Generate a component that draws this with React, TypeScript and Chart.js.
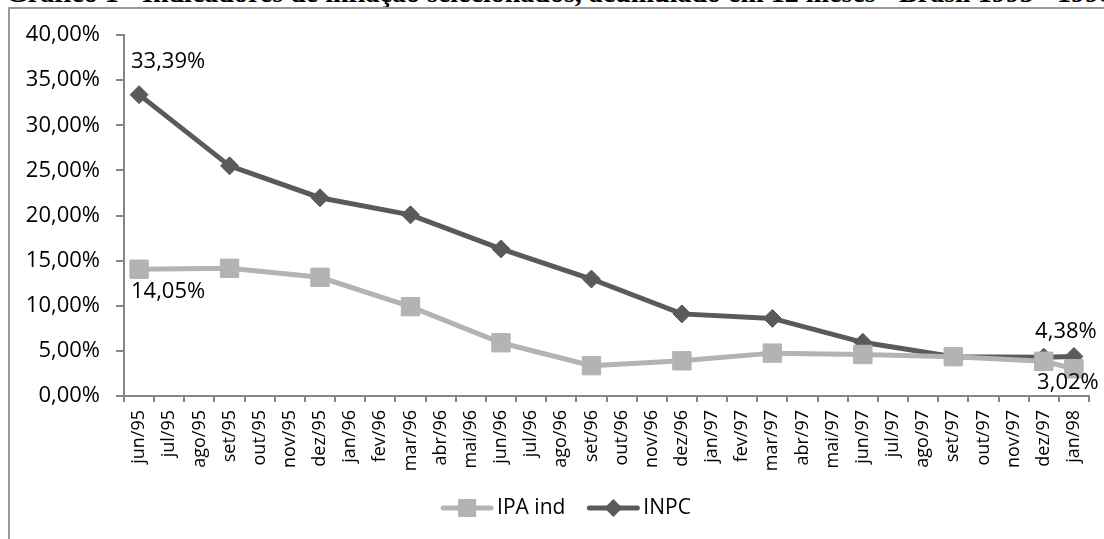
import React, { useEffect, useRef } from "react";
import { Chart, registerables } from "chart.js";

Chart.register(...registerables);

// ---- data ----
const categories: string[] = [
  "jun/95", "jul/95", "ago/95", "set/95", "out/95", "nov/95", "dez/95",
  "jan/96", "fev/96", "mar/96", "abr/96", "mai/96", "jun/96", "jul/96", "ago/96", "set/96", "out/96", "nov/96", "dez/96",
  "jan/97", "fev/97", "mar/97", "abr/97", "mai/97", "jun/97", "jul/97", "ago/97", "set/97", "out/97", "nov/97", "dez/97",
  "jan/98",
];

const ipaInd: (number | null)[] = [
  14.05, null, null, 14.15, null, null, 13.15, null, null, 9.9, null, null,
  5.9, null, null, 3.36, null, null, 3.9, null, null, 4.75, null, null,
  4.6, null, null, 4.35, null, null, 3.85, 3.02,
];

const inpc: (number | null)[] = [
  33.39, null, null, 25.5, null, null, 21.97, null, null, 20.07, null, null,
  16.3, null, null, 12.96, null, null, 9.1, null, null, 8.6, null, null,
  5.95, null, null, 4.35, null, null, 4.3, 4.38,
];

const seriesNames: string[] = ["IPA ind", "INPC"];
const yMin = 0;
const yMax = 40;
const yStep = 5;

const titleText =
  "Gráfico 1 - Indicadores de inflação selecionados, acumulado em 12 meses - Brasil 1995 - 1998";

// ---- styles ----
const FONT = "'Open Sans', 'Noto Sans', sans-serif";
const AXIS = "#868686";
const IPA_COLOR = "#b3b3b3";
const INPC_COLOR = "#5a5a5a";

const fmt = (v: number) => v.toFixed(2).replace(".", ",") + "%";

// data labels: dataset index, point index, offset from the point
const labelSpecs = [
  { ds: 1, idx: 0, dx: 29, dy: -33 },
  { ds: 0, idx: 0, dx: 29, dy: 23 },
  { ds: 1, idx: 31, dx: -8, dy: -25 },
  { ds: 0, idx: 31, dx: -6, dy: 14 },
];

const dataLabelPlugin = {
  id: "dataLabels",
  afterDatasetsDraw(chart: any) {
    const ctx = chart.ctx;
    ctx.save();
    ctx.font = `22px ${FONT}`;
    ctx.fillStyle = "#000";
    ctx.textAlign = "center";
    ctx.textBaseline = "middle";
    for (const s of labelSpecs) {
      const meta = chart.getDatasetMeta(s.ds);
      const el = meta.data[s.idx];
      const v = chart.data.datasets[s.ds].data[s.idx];
      if (!el || v == null) continue;
      ctx.fillText(fmt(v), el.x + s.dx, el.y + s.dy);
    }
    ctx.restore();
  },
};

const LEGEND_CX = 566;
const LEGEND_Y = 508;

const legendPlugin = {
  id: "customLegend",
  afterDraw(chart: any) {
    const ctx = chart.ctx;
    ctx.save();
    ctx.font = `21px ${FONT}`;
    const lineLen = 52;
    const textGap = 4;
    const itemGap = 22;
    const items = chart.data.datasets.map((d: any) => ({
      label: d.label,
      color: d.borderColor,
      style: d.pointStyle,
      w: lineLen + textGap + ctx.measureText(d.label).width,
    }));
    const total = items.reduce((a: number, b: any) => a + b.w, 0) + itemGap * (items.length - 1);
    let x = LEGEND_CX - total / 2;
    for (const it of items) {
      ctx.strokeStyle = it.color;
      ctx.lineWidth = 5;
      ctx.lineCap = "round";
      ctx.beginPath();
      ctx.moveTo(x + 2, LEGEND_Y);
      ctx.lineTo(x + lineLen - 2, LEGEND_Y);
      ctx.stroke();
      ctx.fillStyle = it.color;
      const cx = x + lineLen / 2;
      if (it.style === "rect") {
        ctx.fillRect(cx - 9, LEGEND_Y - 9, 18, 18);
      } else {
        ctx.beginPath();
        ctx.moveTo(cx, LEGEND_Y - 9);
        ctx.lineTo(cx + 9, LEGEND_Y);
        ctx.lineTo(cx, LEGEND_Y + 9);
        ctx.lineTo(cx - 9, LEGEND_Y);
        ctx.closePath();
        ctx.fill();
      }
      ctx.fillStyle = "#000";
      ctx.textAlign = "left";
      ctx.textBaseline = "middle";
      ctx.fillText(it.label, x + lineLen + textGap, LEGEND_Y);
      x += it.w + itemGap;
    }
    ctx.restore();
  },
};

export default function App() {
  const canvasRef = useRef<HTMLCanvasElement | null>(null);

  useEffect(() => {
    if (!canvasRef.current) return;
    const chart = new Chart(canvasRef.current, {
      type: "line",
      data: {
        labels: categories,
        datasets: [
          {
            label: seriesNames[0],
            data: ipaInd,
            borderColor: IPA_COLOR,
            backgroundColor: IPA_COLOR,
            borderWidth: 5,
            pointStyle: "rect",
            pointRadius: 13,
            pointBorderWidth: 1,
            pointBackgroundColor: IPA_COLOR,
            pointBorderColor: IPA_COLOR,
            spanGaps: true,
            tension: 0,
          },
          {
            label: seriesNames[1],
            data: inpc,
            borderColor: INPC_COLOR,
            backgroundColor: INPC_COLOR,
            borderWidth: 5,
            pointStyle: "rectRot",
            pointRadius: 9,
            pointBorderWidth: 1,
            pointBackgroundColor: INPC_COLOR,
            pointBorderColor: INPC_COLOR,
            spanGaps: true,
            tension: 0,
          },
        ],
      },
      options: {
        responsive: false,
        animation: false,
        devicePixelRatio: 1,
        layout: { padding: { left: 0, top: 35, right: 15, bottom: 0 } },
        plugins: {
          legend: { display: false },
          title: { display: false },
          tooltip: { enabled: false },
        },
        scales: {
          x: {
            type: "category",
            offset: true,
            grid: {
              offset: true,
              drawOnChartArea: false,
              drawTicks: true,
              tickLength: 6,
              color: AXIS,
              lineWidth: 2,
            },
            border: { display: true, color: AXIS, width: 2 },
            ticks: {
              autoSkip: false,
              minRotation: 90,
              maxRotation: 90,
              padding: 8,
              color: "#000",
              font: { family: FONT, size: 18 },
            },
            afterFit: (s: any) => {
              s.height = 143;
            },
          },
          y: {
            min: yMin,
            max: yMax,
            grid: {
              drawOnChartArea: false,
              drawTicks: true,
              tickLength: 8,
              color: AXIS,
              lineWidth: 2,
            },
            border: { display: true, color: AXIS, width: 2 },
            ticks: {
              stepSize: yStep,
              padding: 16,
              color: "#000",
              font: { family: FONT, size: 22 },
              callback: (v: any) => fmt(Number(v)),
            },
            afterFit: (s: any) => {
              s.width = 124;
            },
          },
        },
      },
      plugins: [dataLabelPlugin, legendPlugin],
    } as any);
    return () => chart.destroy();
  }, []);

  return (
    <div
      style={{
        position: "absolute",
        left: 0,
        top: 0,
        width: 1104,
        height: 539,
        overflow: "hidden",
        background: "#fff",
      }}
    >
      <div
        style={{
          position: "absolute",
          left: 6,
          top: -21,
          whiteSpace: "nowrap",
          fontFamily: "'Liberation Serif', serif",
          fontWeight: "bold",
          fontSize: 28,
          lineHeight: "28px",
          color: "#000",
        }}
      >
        {titleText}
      </div>
      <div
        style={{
          position: "absolute",
          left: 8,
          top: 7,
          width: 1200,
          height: 700,
          border: "2px solid #9a9a9a",
          boxSizing: "border-box",
        }}
      />
      <canvas
        ref={canvasRef}
        width={1104}
        height={539}
        style={{ position: "absolute", left: 0, top: 0, width: 1104, height: 539 }}
      />
    </div>
  );
}
